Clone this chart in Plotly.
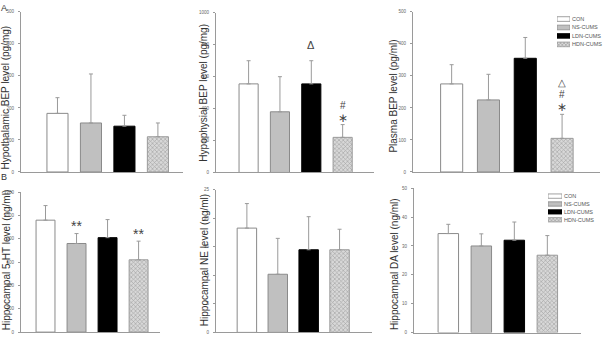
import plotly.graph_objects as go

groups = ["CON", "NS-CUMS", "LDN-CUMS", "HDN-CUMS"]

hypothalamic_bep = [183, 153, 143, 110]
hypothalamic_sd = [49, 153, 34, 43]
hypophysial_bep = [555, 380, 555, 220]
hypophysial_sd = [145, 220, 145, 80]
plasma_bep = [275, 225, 355, 105]
plasma_sd = [60, 80, 65, 75]
hippo_5ht = [960, 760, 810, 620]
hippo_5ht_sd = [125, 85, 155, 160]
hippo_ne = [18.3, 10.2, 14.5, 14.5]
hippo_ne_sd = [4.3, 6.3, 5.8, 3.6]
hippo_da = [34.3, 30.0, 32.0, 26.8]
hippo_da_sd = [3.2, 4.2, 6.3, 6.8]

W, H = 605, 342
fills = ["#ffffff", "#c0c0c0", "#000000", "#d8d8d8"]
lines = ["#8a8a8a", "#8a8a8a", "#000000", "#9a9a9a"]
shapes = ["", "", "", "x"]
AX = "#9a9a9a"
FONT = "Liberation Sans, Arial, sans-serif"

panels = [
    (hypothalamic_bep, hypothalamic_sd, 500, 100, (21, 183), (10, 172.5), (-1.09, 3.75), 0.63,
     "Hypothalamic BEP level (pg/mg)", 6, 97),
    (hypophysial_bep, hypophysial_sd, 1000, 200, (216, 374), (11, 173), (-1.04, 4.0), 0.61,
     "Hypophysial BEP level (pg/mg)", 204, 92),
    (plasma_bep, plasma_sd, 500, 100, (413, 600), (10, 172.5), (-1.05, 4.03), 0.6,
     "Plasma BEP level (pg/ml)", 394, 96),
    (hippo_5ht, hippo_5ht_sd, 1200, 200, (21, 160), (193, 335), (-0.79, 3.69), 0.61,
     "Hippocampal 5-HT level (ng/ml)", 6, 262),
    (hippo_ne, hippo_ne_sd, 25, 5, (216, 372), (190.7, 335.3), (-1.0, 4.05), 0.63,
     "Hippocampal NE level (ng/ml)", 204, 262),
    (hippo_da, hippo_da_sd, 50, 10, (414, 581), (189, 335.5), (-1.04, 4.02), 0.62,
     "Hippocampal DA level (ng/ml)", 394, 266),
]

fig = go.Figure()
layout = dict(
    width=W, height=H, margin=dict(l=0, r=0, t=0, b=0),
    paper_bgcolor="white", plot_bgcolor="white", showlegend=False,
    font=dict(family=FONT), barmode="overlay",
)
annotations = []
xs = list(range(len(groups)))

for i, (vals, sd, ymax, dtick, xpx, ypx, xr, bw, label, lx, ly) in enumerate(panels, start=1):
    xa = "x" if i == 1 else f"x{i}"
    ya = "y" if i == 1 else f"y{i}"
    for g in range(len(groups)):
        fig.add_trace(go.Bar(
            x=[xs[g]], y=[vals[g]], width=bw, xaxis=xa, yaxis=ya,
            marker=dict(color=fills[g], line=dict(color=lines[g], width=1),
                        pattern=dict(shape=shapes[g], fgcolor="#6a6a6a", bgcolor=fills[g],
                                     size=3, solidity=0.35)),
            error_y=dict(type="data", symmetric=False, array=[sd[g]], arrayminus=[0],
                         color="#9a9a9a", thickness=1, width=2),
            name=groups[g], showlegend=False,
        ))
    key = "" if i == 1 else str(i)
    layout["xaxis" + key] = dict(
        domain=[xpx[0] / W, xpx[1] / W], range=list(xr), showline=True, linecolor=AX,
        linewidth=1, showticklabels=False, ticks="", showgrid=False, zeroline=False,
        anchor=ya, fixedrange=True,
    )
    layout["yaxis" + key] = dict(
        domain=[1 - ypx[1] / H, 1 - ypx[0] / H], range=[0, ymax], dtick=dtick,
        showline=True, linecolor=AX, linewidth=1, ticks="outside", ticklen=2,
        tickcolor=AX, tickfont=dict(size=4.5, color="#666"), showgrid=False,
        zeroline=False, anchor=xa, ticklabelstandoff=3,
    )
    annotations.append(dict(
        text=label, textangle=-90, xref="paper", yref="paper",
        x=lx / W, y=1 - ly / H, showarrow=False, xanchor="center", yanchor="middle",
        font=dict(size=10, color="#333"),
    ))

# significance marks
sig = [
    ("x2", "y2", 2, 800, "\u0394", 11),
    ("x2", "y2", 3, 418, "#", 10),
    ("x2", "y2", 3, 343, "\u2217", 12),
    ("x3", "y3", 3, 278, "\u25b3", 10),
    ("x3", "y3", 3, 242, "#", 10),
    ("x3", "y3", 3, 203, "\u2217", 12),
    ("x4", "y4", 1, 912, "**", 14),
    ("x4", "y4", 3, 845, "**", 14),
]
for xr_, yr_, gx, gy, t, fs in sig:
    annotations.append(dict(text=t, xref=xr_, yref=yr_, x=gx, y=gy, showarrow=False,
                            font=dict(size=fs, color="#444"), xanchor="center", yanchor="middle"))

annotations.append(dict(text="A", xref="paper", yref="paper", x=0, y=1, showarrow=False,
                        xanchor="left", yanchor="top", borderpad=0,
                        font=dict(size=9, color="#333")))
annotations.append(dict(text="B", xref="paper", yref="paper", x=0, y=1 - 172 / H, showarrow=False,
                        xanchor="left", yanchor="top", borderpad=0,
                        font=dict(size=9, color="#333")))

# legends drawn as small horizontal bar keys
legend_boxes = [(7, (557, 570), (13, 47.3)), (8, (548, 562), (193, 225))]
for idx, lxp, lyp in legend_boxes:
    fig.add_trace(go.Bar(
        y=groups, x=[1] * len(groups), orientation="h", width=0.55,
        xaxis=f"x{idx}", yaxis=f"y{idx}",
        marker=dict(color=fills, line=dict(color=lines, width=0.8),
                    pattern=dict(shape=shapes, fgcolor="#6a6a6a", bgcolor=fills,
                                 size=2.5, solidity=0.35)),
        showlegend=False, hoverinfo="skip",
    ))
    layout[f"xaxis{idx}"] = dict(domain=[lxp[0] / W, lxp[1] / W], range=[0, 1], visible=False,
                                 anchor=f"y{idx}")
    layout[f"yaxis{idx}"] = dict(domain=[1 - lyp[1] / H, 1 - lyp[0] / H], side="right",
                                 categoryorder="array", categoryarray=groups, autorange="reversed",
                                 showline=False, ticks="", showgrid=False, zeroline=False,
                                 tickfont=dict(size=5.5, color="#555"), ticklabelstandoff=1,
                                 anchor=f"x{idx}")

layout["annotations"] = annotations
fig.update_layout(**layout)
fig.write_html("out.html")
